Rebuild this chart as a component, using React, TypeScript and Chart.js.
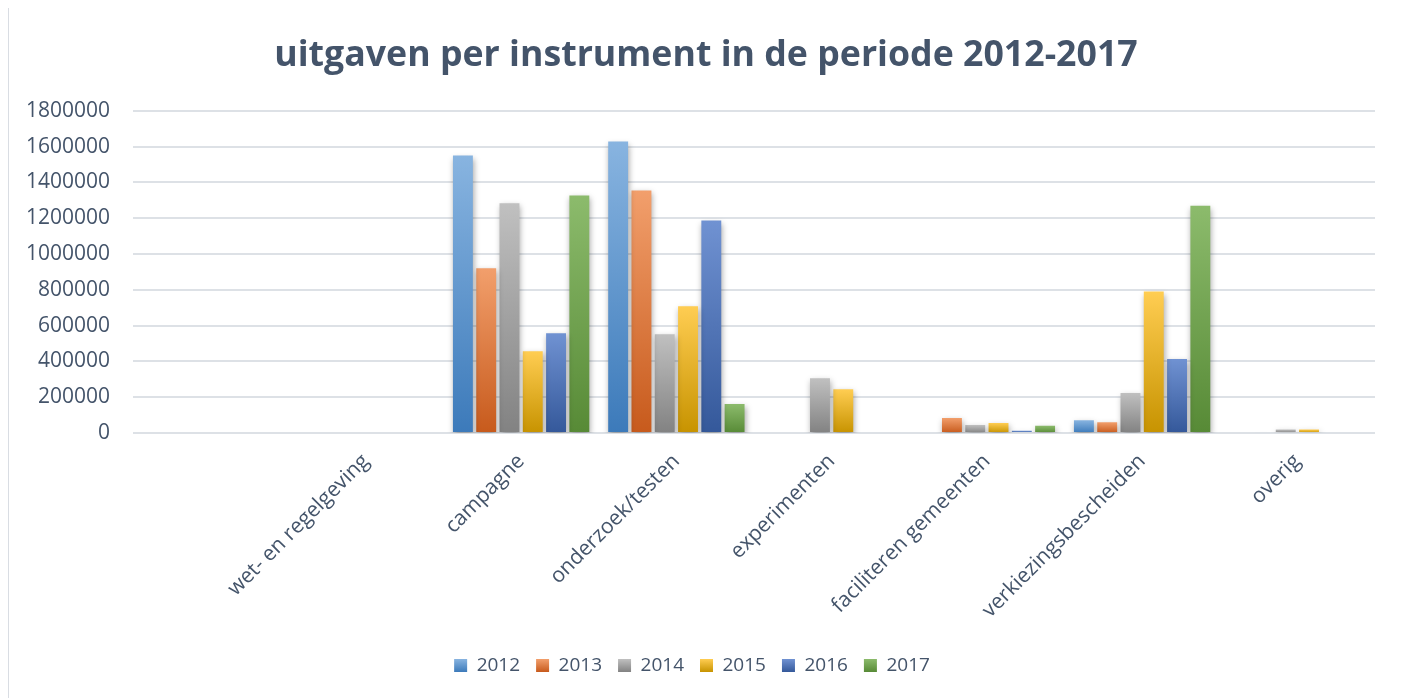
import React, { useEffect, useRef } from "react";
import { Chart, registerables } from "chart.js";

Chart.register(...registerables);

const categories = [
  "",
  "wet- en regelgeving",
  "campagne",
  "onderzoek/testen",
  "experimenten",
  "faciliteren gemeenten",
  "verkiezingsbescheiden",
  "overig",
];

const seriesNames = ["2012", "2013", "2014", "2015", "2016", "2017"];

const values2012 = [null, 0, 1550000, 1628000, 0, 0, 71000, 0];
const values2013 = [null, 0, 920000, 1355000, 0, 84000, 60000, 5000];
const values2014 = [null, 0, 1283000, 552000, 306000, 45000, 224000, 20000];
const values2015 = [null, 0, 457000, 708000, 244000, 56000, 790000, 20000];
const values2016 = [null, 0, 557000, 1187000, 0, 12000, 414000, 0];
const values2017 = [null, 0, 1327000, 162000, 0, 40000, 1270000, 0];

const yTicks = [0, 200000, 400000, 600000, 800000, 1000000, 1200000, 1400000, 1600000, 1800000];

const allValues = [values2012, values2013, values2014, values2015, values2016, values2017];

const gradTop = ["#88b4e0", "#f29f6c", "#c0c0c0", "#ffcd52", "#7092d2", "#8cbb6c"];
const gradBottom = ["#3c7aba", "#c75a1c", "#828282", "#c79300", "#34589a", "#578a36"];
const midColor = ["#5b97cf", "#e07a42", "#a0a0a0", "#e8b02a", "#5073b6", "#70a250"];

const TEXT = "#44546a";
const GRID = "#dde1e6";

export default function App() {
  const ref = useRef<HTMLCanvasElement | null>(null);

  useEffect(() => {
    if (!ref.current) return;

    const titleShift = {
      id: "titleShift",
      afterLayout(chart: any) {
        const t = chart.titleBlock;
        if (t) {
          t.left += 14;
          t.right += 14;
        }
      },
    };

    const legendGradient = {
      id: "legendGradient",
      afterDraw(chart: any) {
        const legend = chart.legend;
        if (!legend || !legend.legendHitBoxes) return;
        const ctx = chart.ctx;
        const bw = legend.options.labels.boxWidth;
        const bh = legend.options.labels.boxHeight;
        legend.legendHitBoxes.forEach((hb: any, i: number) => {
          const top = hb.top + (hb.height - bh) / 2;
          const g = ctx.createLinearGradient(0, top, 0, top + bh);
          g.addColorStop(0, gradTop[i]);
          g.addColorStop(1, gradBottom[i]);
          ctx.save();
          ctx.fillStyle = "#ffffff";
          ctx.fillRect(hb.left - 1, top - 1, bw + 2, bh + 2);
          ctx.fillStyle = g;
          ctx.fillRect(hb.left, top, bw, bh);
          ctx.restore();
        });
      },
    };

    const shadow = {
      id: "barShadow",
      beforeDatasetsDraw(chart: any) {
        const ctx = chart.ctx;
        ctx.save();
        ctx.shadowColor = "rgba(0,0,0,0.35)";
        ctx.shadowBlur = 6;
        ctx.shadowOffsetX = 1;
        ctx.shadowOffsetY = 3;
      },
      afterDatasetsDraw(chart: any) {
        chart.ctx.restore();
      },
    };

    const datasets = seriesNames.map((name, i) => ({
      label: name,
      data: allValues[i],
      backgroundColor: (c: any) => {
        const chart = c.chart;
        const y = chart.scales && chart.scales.y;
        if (c.type !== "data" || !y || c.raw == null) return midColor[i];
        const top = y.getPixelForValue(c.raw);
        const base = y.getPixelForValue(0);
        if (!isFinite(top) || !isFinite(base) || Math.abs(base - top) < 1) return midColor[i];
        const g = chart.ctx.createLinearGradient(0, top, 0, base);
        g.addColorStop(0, gradTop[i]);
        g.addColorStop(1, gradBottom[i]);
        return g;
      },
      borderWidth: 0,
      categoryPercentage: 0.9,
      barPercentage: 0.855,
    }));

    const chart = new Chart(ref.current, {
      type: "bar",
      data: { labels: categories, datasets },
      plugins: [shadow, legendGradient, titleShift],
      options: {
        animation: false,
        responsive: true,
        maintainAspectRatio: false,
        layout: { padding: { left: 0, right: 25, top: 0, bottom: 20 } },
        plugins: {
          title: {
            display: true,
            text: "uitgaven per instrument in de periode 2012-2017",
            color: TEXT,
            font: { family: "'Open Sans'", size: 35.7, weight: "bold" },
            padding: { top: 27, bottom: 34 },
          },
          legend: {
            position: "bottom",
            labels: {
              color: TEXT,
              font: { family: "'Open Sans'", size: 19 },
              boxWidth: 13,
              boxHeight: 13,
              padding: 16,
            },
          },
          tooltip: { enabled: false },
        },
        scales: {
          x: {
            grid: { display: false },
            border: { display: false },
            afterFit: (axis: any) => {
              axis.height = 207;
            },
            ticks: {
              color: TEXT,
              font: { family: "'Open Sans'", size: 21 },
              maxRotation: 45,
              minRotation: 45,
              autoSkip: false,
              padding: 8,
            },
          },
          y: {
            min: 0,
            max: 1800000,
            afterBuildTicks: (axis: any) => {
              axis.ticks = yTicks.map((v) => ({ value: v }));
            },
            afterFit: (axis: any) => {
              axis.width = 124;
            },
            grid: { color: GRID, lineWidth: 2, drawTicks: false },
            border: { display: false },
            ticks: {
              color: TEXT,
              font: { family: "'Open Sans'", size: 21 },
              padding: 23,
              callback: (v: any) => String(v),
            },
          },
        },
      },
    });

    return () => chart.destroy();
  }, []);

  return (
    <div
      style={{
        position: "relative",
        width: 1393,
        height: 700,
        marginTop: -2,
        border: "1px solid #d9dde3",
        boxSizing: "border-box",
      }}
    >
      <canvas ref={ref} />
    </div>
  );
}
